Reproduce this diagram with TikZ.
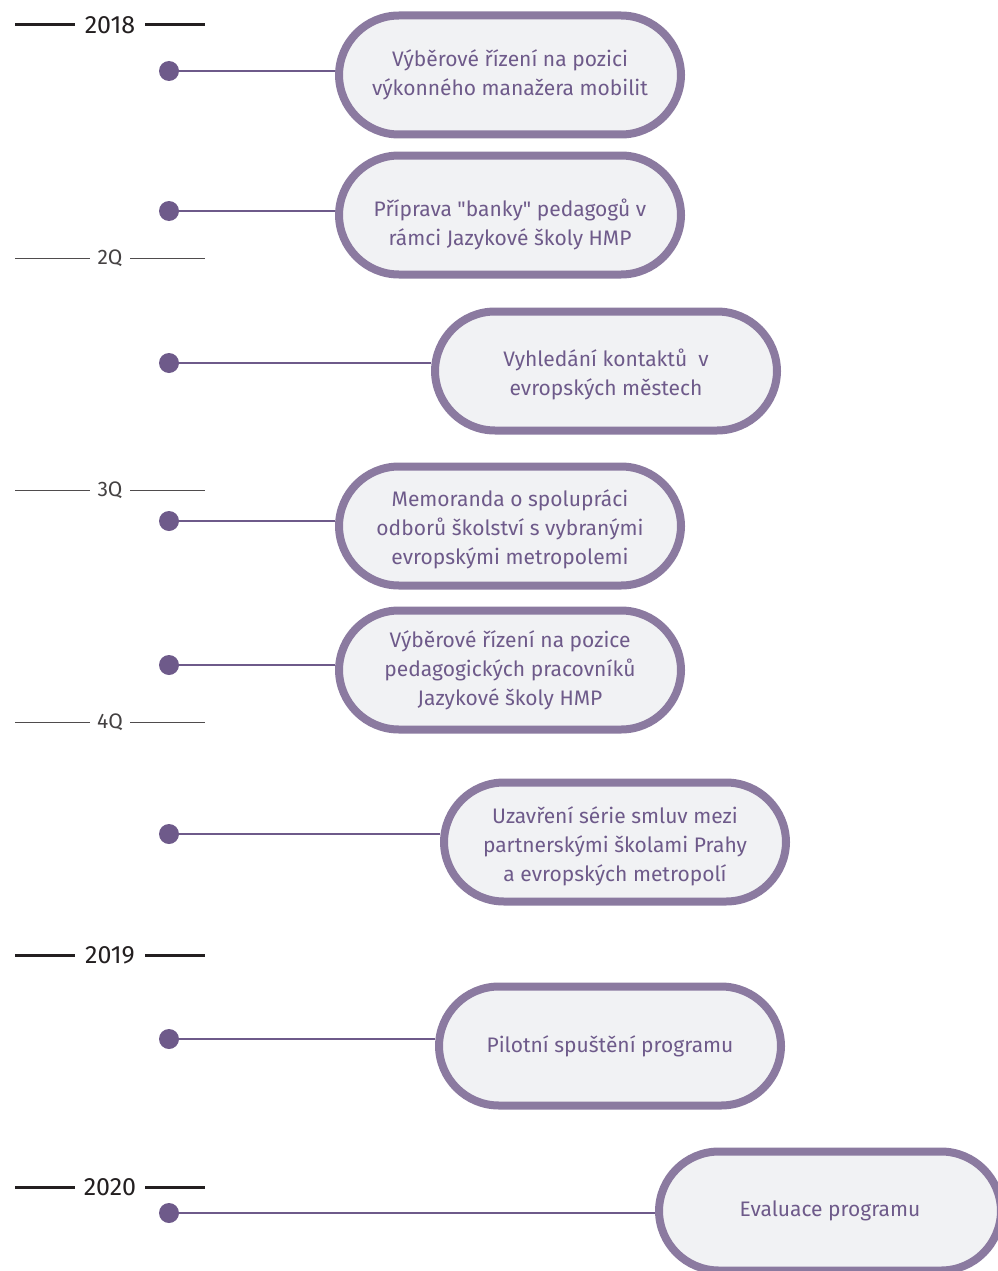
\documentclass[tikz,border=0pt]{standalone}
\usepackage{fontspec}
\setmainfont{Fira Sans}[Ligatures=TeXOff]
\usepackage{xcolor}
\usepackage{tikz}
\usetikzlibrary{positioning}
\definecolor{ink}{HTML}{231F20}
\definecolor{plum}{HTML}{8B7AA0}
\definecolor{plumdark}{HTML}{6E5A8A}
\definecolor{pale}{HTML}{F1F2F4}
\newcommand\textdrop[1]{\rule{0pt}{#1}}
\tikzset{
  stepbox/.style={draw=plum,line width=8pt,fill=pale,rounded corners=60pt,
    minimum width=342pt,minimum height=119pt,align=center,text=plumdark,
    font=\fontsize{21}{29}\selectfont},
  tdot/.style={circle,fill=plumdark,minimum size=20pt,inner sep=0pt},
  tlink/.style={draw=plumdark,line width=2.5pt},
  yearlabel/.style={font=\fontsize{25}{28}\selectfont,text=ink,inner sep=0pt},
  qlabel/.style={font=\fontsize{21}{25}\selectfont,text=ink!85,inner sep=0pt},
  yearline/.style={draw=ink,line width=3pt},
  qline/.style={draw=ink!80,line width=0.9pt}
}

\begin{document}
\begin{tikzpicture}[x=1pt,y=-1pt]
\useasboundingbox[fill=white] (0,0) rectangle (998,1271);
% time axis labels
\node[yearlabel] (y18) at (110,25) {2018};
\node[qlabel] (q2) at (110,258) {2Q};
\node[qlabel] (q3) at (110,490) {3Q};
\node[qlabel] (q4) at (110,722) {4Q};
\node[yearlabel] (y19) at (110,955) {2019};
\node[yearlabel] (y20) at (110,1187) {2020};
\draw[yearline] (15,25) -- (75,25) (145,25) -- (205,25);
\draw[qline] (15,258) -- (90,258) (130,258) -- (205,258);
\draw[qline] (15,490) -- (90,490) (130,490) -- (205,490);
\draw[qline] (15,722) -- (90,722) (130,722) -- (205,722);
\draw[yearline] (15,955) -- (75,955) (145,955) -- (205,955);
\draw[yearline] (15,1187) -- (75,1187) (145,1187) -- (205,1187);
% steps
\node[stepbox] (b1) at (510,75) {Výběrové řízení na pozici\\výkonného manažera mobilit};
\node[stepbox] (b2) at (510,215) {\textdrop{37pt}Příprava "banky" pedagogů v\\rámci Jazykové školy HMP};
\node[stepbox] (b3) at (606,371) {\textdrop{25pt}Vyhledání kontaktů\ \ v\\evropských městech};
\node[stepbox] (b4) at (510,526) {\textdrop{24pt}Memoranda o spolupráci\\odborů školství s vybranými\\evropskými metropolemi};
\node[stepbox] (b5) at (510,670) {Výběrové řízení na pozice\\pedagogických pracovníků\\Jazykové školy HMP};
\node[stepbox] (b6) at (615,842) {\textdrop{25pt}Uzavření série smluv mezi\\partnerskými školami Prahy\\a evropských metropolí};
\node[stepbox] (b7) at (610,1046) {Pilotní spuštění programu};
\node[stepbox] (b8) at (830,1211) {Evaluace programu};
% dots and links
\foreach \i/\y in {1/71,2/211,3/363,4/521,5/665,6/834,7/1039,8/1213}{
  \node[tdot] (d\i) at (169,\y) {};
  \draw[tlink] (d\i) -- (d\i -| b\i.west);
}
\end{tikzpicture}
\end{document}
